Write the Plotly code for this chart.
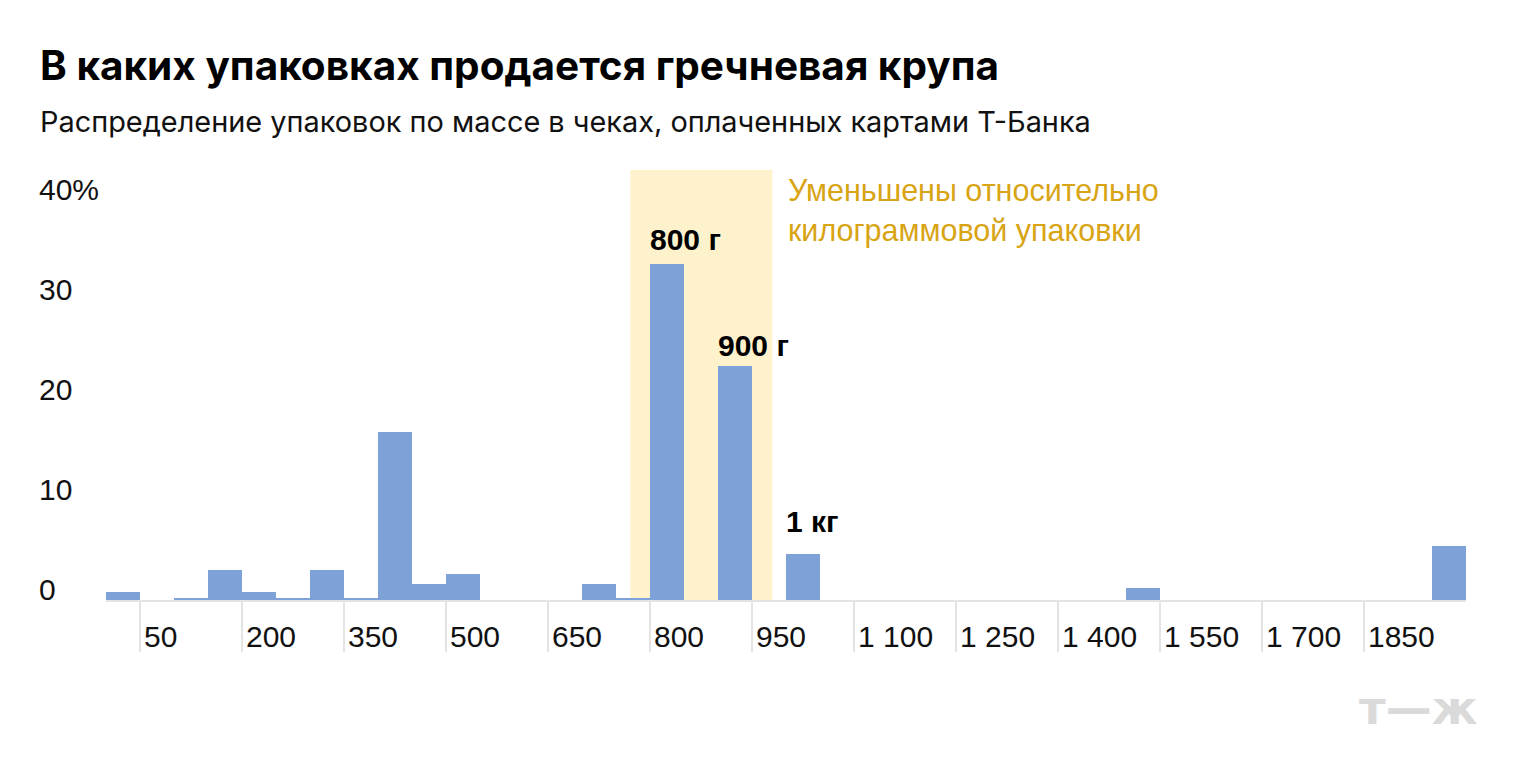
import plotly.graph_objects as go

# --- data ---
weights = list(range(0, 2000, 50))  # package weight, g
shares = [0.8, 0.0, 0.2, 3.0, 0.8, 0.2, 3.0, 0.2, 16.8, 1.6,
          2.6, 0.0, 0.0, 0.0, 1.6, 0.2, 33.6, 0.0, 23.4, 0.0,
          4.6, 0.0, 0.0, 0.0, 0.0, 0.0, 0.0, 0.0, 0.0, 0.0,
          1.2, 0.0, 0.0, 0.0, 0.0, 0.0, 0.0, 0.0, 0.0, 5.4]
x_tick_vals = [50, 200, 350, 500, 650, 800, 950, 1100, 1250, 1400, 1550, 1700, 1850]
x_tick_text = ["50", "200", "350", "500", "650", "800", "950", "1 100", "1 250",
               "1 400", "1 550", "1 700", "1850"]
y_tick_vals = [0, 10, 20, 30, 40]
y_tick_text = ["0", "10", "20", "30", "40%"]
callout_weights = [800, 900, 1000]
callout_text = ["800 г", "900 г", "1 кг"]
callout_shift = [6, 2, 14]
highlight_range = [746, 955]

title = "В каких упаковках продается гречневая крупа"
subtitle = "Распределение упаковок по массе в чеках, оплаченных картами Т-Банка"
note_lines = ["Уменьшены относительно", "килограммовой упаковки"]

W, H = 1520, 780
ML, MR, MT, MB = 106, 54, 170, 180
PW, PH = W - ML - MR, H - MT - MB
BIN = 50

BAR = "#7ea1d7"
GRID = "#e4e4e4"
GOLD = "#d8a414"
HL = "#fef2cc"
LABEL_FONT = "Liberation Sans, Arial, sans-serif"


def px_x(p):
    return (p - ML) / PW


def px_y(p):
    return (H - MB - p) / PH


fig = go.Figure()
fig.add_trace(go.Bar(x=weights, y=shares, width=BIN, marker=dict(color=BAR, line=dict(width=0)),
                     hoverinfo="x+y"))

fig.add_shape(type="rect", xref="x", yref="paper", x0=highlight_range[0], x1=highlight_range[1],
              y0=0, y1=1, fillcolor=HL, line=dict(width=0), layer="below")

ann = []
# x labels, left-aligned just right of the tick lines
for v, t in zip(x_tick_vals, x_tick_text):
    ann.append(dict(x=v - BIN / 2, y=0, xref="x", yref="paper", text=t, showarrow=False,
                    xanchor="left", yanchor="middle", xshift=2, yshift=-36,
                    font=dict(family=LABEL_FONT, size=30, color="#111111")))
# y labels, left-aligned
for v, t in zip(y_tick_vals, y_tick_text):
    ann.append(dict(x=px_x(37), y=v, xref="paper", yref="y", text=t, showarrow=False,
                    xanchor="left", yanchor="middle", yshift=11,
                    font=dict(family=LABEL_FONT, size=30, color="#111111")))
# callouts
for w, t, s in zip(callout_weights, callout_text, callout_shift):
    ann.append(dict(x=w - BIN / 2, y=shares[weights.index(w)], xref="x", yref="y",
                    text="<b>%s</b>" % t, showarrow=False, xanchor="left", yanchor="bottom",
                    xshift=-2, yshift=s,
                    font=dict(family=LABEL_FONT, size=30, color="#000000")))
# highlight note
for i, line in enumerate(note_lines):
    ann.append(dict(x=px_x(786), y=px_y(190 + 40 * i), xref="paper", yref="paper", text=line,
                    showarrow=False, xanchor="left", yanchor="middle",
                    font=dict(family=LABEL_FONT, size=30.5, color=GOLD)))
# title / subtitle
ann.append(dict(x=px_x(38), y=px_y(65), xref="paper", yref="paper", text="<b>%s</b>" % title,
                showarrow=False, xanchor="left", yanchor="middle",
                font=dict(family="Inter, Roboto, sans-serif", size=40.5, color="#000000")))
ann.append(dict(x=px_x(38), y=px_y(121), xref="paper", yref="paper", text=subtitle,
                showarrow=False, xanchor="left", yanchor="middle",
                font=dict(family="Inter, Roboto, sans-serif", size=28.9, color="#111111")))
# logo
ann.append(dict(x=px_x(1480), y=px_y(708), xref="paper", yref="paper", text="<b>т—ж</b>",
                showarrow=False, xanchor="right", yanchor="middle",
                font=dict(family="DejaVu Sans, sans-serif", size=46, color="#dadada")))

fig.update_layout(
    width=W, height=H,
    margin=dict(l=ML, r=MR, t=MT, b=MB, pad=0),
    paper_bgcolor="white", plot_bgcolor="white",
    bargap=0, showlegend=False,
    annotations=ann,
    xaxis=dict(range=[-BIN / 2, weights[-1] + BIN / 2], tickvals=[v - BIN / 2 for v in x_tick_vals],
               ticktext=[""] * len(x_tick_vals), ticks="outside", ticklen=50, tickwidth=2,
               tickcolor=GRID, showline=True, linecolor=GRID, linewidth=2, showgrid=False,
               zeroline=False, layer="below traces", fixedrange=True),
    yaxis=dict(range=[0, 43], showticklabels=False, ticks="", showgrid=False, zeroline=False,
               showline=False, fixedrange=True),
)

fig.write_html("out.html")
